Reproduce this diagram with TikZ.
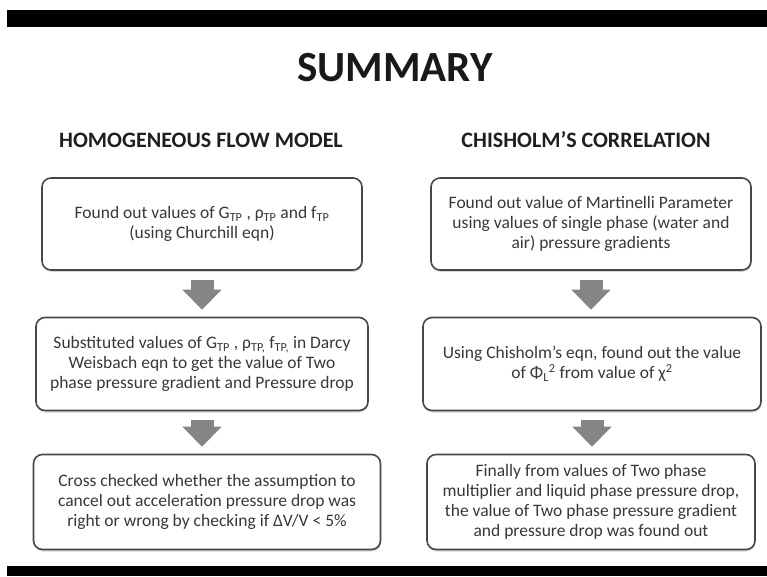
\documentclass[tikz,border=0pt]{standalone}
\usepackage{fontspec}
\setmainfont{Carlito}
\colorlet{BoxBorder}{black!72}
\colorlet{BoxText}{black!78}
\colorlet{HeaderText}{black!88}
\colorlet{ArrowFill}{black!48}
\usetikzlibrary{arrows.meta, shadows}

\tikzset{
  stagebox/.style={draw=BoxBorder, line width=1.6pt, rounded corners=9pt,
    fill=white, align=center, text=BoxText, inner sep=0pt,
    font=\fontsize{17.5}{20}\selectfont,
    drop shadow={shadow xshift=0.6pt, shadow yshift=-2pt, opacity=0.3}},
  header/.style={font=\fontsize{22}{26}\selectfont\bfseries, text=HeaderText},
  blockarrow/.style={draw=ArrowFill, line width=23pt,
    -{Triangle[width=38pt, length=20pt]}, shorten <=9pt, shorten >=7pt},
}

\begin{document}
\begin{tikzpicture}[x=1pt, y=-1pt]

\useasboundingbox (0,0) rectangle (767,576);

% Barras negras de la diapositiva
\fill[black] (7,10) rectangle (767,27);
\fill[black] (7,566) rectangle (767,576);

% Titulo y encabezados
\node[font=\fontsize{43}{48}\selectfont\bfseries, text=black!90] (title) at (395,68) {SUMMARY};
\node[header] (hfm) at (201,140) {HOMOGENEOUS FLOW MODEL};
\node[header] (chc) at (586,140) {CHISHOLM’S CORRELATION};

% Cajas de la columna izquierda
\node[stagebox, minimum width=320pt, minimum height=92pt] (hfmA) at (202,224)
  {Found out values of G\textsubscript{TP} , ρ\textsubscript{TP} and f\textsubscript{TP}\\
   (using Churchill eqn)};
\node[stagebox, minimum width=332pt, minimum height=93pt] (hfmB) at (202,364)
  {Substituted values of G\textsubscript{TP} , ρ\textsubscript{TP,} f\textsubscript{TP,} in Darcy\\
   Weisbach eqn to get the value of Two\\
   phase pressure gradient and Pressure drop};
\node[stagebox, minimum width=347pt, minimum height=95pt] (hfmC) at (207,502)
  {Cross checked whether the assumption to\\
   cancel out acceleration pressure drop was\\
   right or wrong by checking if ΔV/V < 5\%};

% Cajas de la columna derecha
\node[stagebox, minimum width=320pt, minimum height=92pt] (chcA) at (591,224)
  {Found out value of Martinelli Parameter\\
   using values of single phase (water and\\
   air) pressure gradients};
\node[stagebox, minimum width=338pt, minimum height=93pt] (chcB) at (592,364)
  {Using Chisholm’s eqn, found out the value\\
   of Φ\textsubscript{L}\textsuperscript{2} from value of χ\textsuperscript{2}};
\node[stagebox, minimum width=328pt, minimum height=95pt] (chcC) at (591,502)
  {Finally from values of Two phase\\
   multiplier and liquid phase pressure drop,\\
   the value of Two phase pressure gradient\\
   and pressure drop was found out};

% Flechas entre pasos
\draw[blockarrow] (hfmA.south) -- (hfmA.south |- hfmB.north);
\draw[blockarrow] (hfmB.south) -- (hfmB.south |- hfmC.north);
\draw[blockarrow] (chcA.south) -- (chcA.south |- chcB.north);
\draw[blockarrow] (chcB.south) -- (chcB.south |- chcC.north);

\end{tikzpicture}
\end{document}
